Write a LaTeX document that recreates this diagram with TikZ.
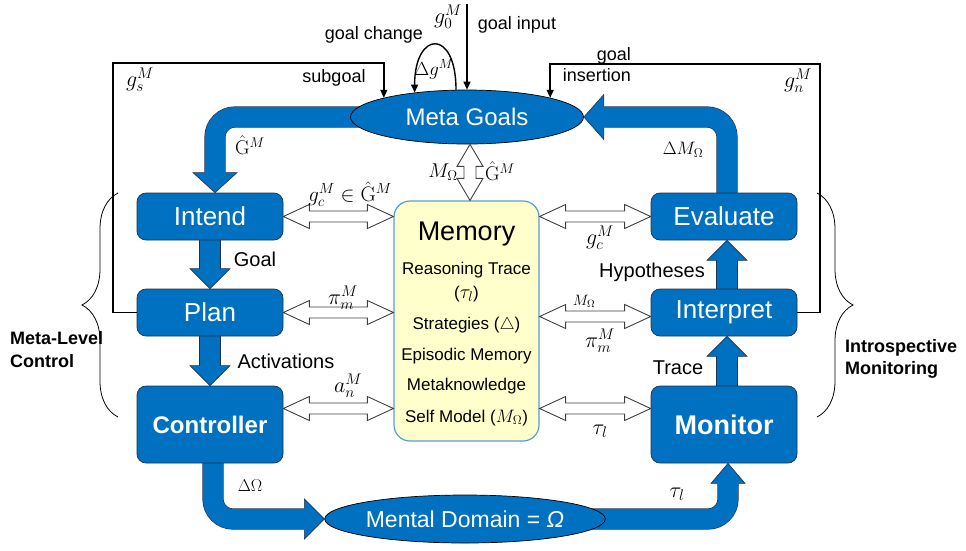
\RequirePackage{fix-cm}
\documentclass[tikz,border=0pt]{standalone}
\usepackage{amsmath}
\usepackage[no-math]{fontspec}
\setmainfont{Liberation Sans}
\usetikzlibrary{arrows.meta,shapes.geometric,decorations.pathreplacing,calc}
\definecolor{mblue}{RGB}{0,112,192}
\definecolor{bedge}{RGB}{30,50,80}
\definecolor{memfill}{RGB}{255,255,204}
\definecolor{memedge}{RGB}{91,155,213}
\definecolor{hedge}{RGB}{64,64,64}
\pgfdeclarelayer{bg}
\pgfsetlayers{bg,main}
\newcommand\fsz[2]{\fontsize{#1}{#2}\selectfont}
% fat arrow head: #1 tip, #2 rotation, #3 half width
\newcommand\fathead[3]{\filldraw[fathd, shift={#1}, rotate=#2] (-10.6,-20) -- (-#3,-20) -- (0,0) -- (#3,-20) -- (10.6,-20);}
% hollow horizontal double arrow, #1 left tip, #2 right tip
\newcommand\harr[2]{\draw[hollow] let \p1=#1, \p2=#2 in
  (\x1,\y1) -- (\x1+26pt,\y1+12pt) -- (\x1+26pt,\y1+5.5pt) -- (\x2-26pt,\y1+5.5pt) -- (\x2-26pt,\y1+12pt) -- (\x2,\y1)
  -- (\x2-26pt,\y1-12pt) -- (\x2-26pt,\y1-5.5pt) -- (\x1+26pt,\y1-5.5pt) -- (\x1+26pt,\y1-12pt) -- cycle;}
% hollow vertical double arrow, #1 top tip, #2 bottom tip
\newcommand\varr[2]{\draw[hollow] let \p1=#1, \p2=#2 in
  (\x1,\y1) -- (\x1+13pt,\y1-22pt) -- (\x1+6pt,\y1-22pt) -- (\x1+6pt,\y2+22pt) -- (\x1+13pt,\y2+22pt) -- (\x1,\y2)
  -- (\x1-13pt,\y2+22pt) -- (\x1-6pt,\y2+22pt) -- (\x1-6pt,\y1-22pt) -- (\x1-13pt,\y1-22pt) -- cycle;}
\tikzset{
  box/.style={rectangle, rounded corners=9pt, fill=mblue, draw=bedge, line width=0.7pt, text=white,
    minimum width=146pt, minimum height=47pt, inner sep=0pt, font=\fsz{26}{30}},
  bigbox/.style={box, minimum height=77pt},
  goalell/.style={ellipse, fill=mblue, draw=black, line width=0.7pt, text=white, inner sep=0pt},
  band/.style={draw=bedge, line width=0.6pt, double=mblue, double distance=20pt, rounded corners=20pt},
  fathd/.style={fill=mblue, draw=bedge, line width=0.6pt, line join=miter},
  hollow/.style={fill=white, draw=hedge, line width=0.9pt},
  conn/.style={line width=1.4pt, -{Triangle[length=8pt,width=7pt]}},
  mlab/.style={inner sep=0pt, font=\fsz{22}{24}},
  tlab/.style={inner sep=0pt, font=\fsz{18}{21}},
  flab/.style={inner sep=0pt, font=\fsz{20}{24}},
  memtxt/.style={inner sep=0pt, anchor=base, font=\fsz{17}{20}},
  bracedeco/.style={decorate, decoration={brace, amplitude=36pt}, line width=0.8pt},
}
\begin{document}
\begin{tikzpicture}[x=1pt,y=-1pt]
\useasboundingbox (0,0) rectangle (966,550);
% nodes
\node[goalell, minimum width=233pt, minimum height=54pt, font=\fsz{24}{28}] (mg) at (467,117) {Meta Goals};
\node[goalell, minimum width=236pt, minimum height=48pt, font=\fsz{23}{27}] (md) at (465,519) {Mental Domain = \textit{Ω}};
\node[box] (intend) at (210,216.5) {Intend};
\node[box] (plan) at (210,312.5) {Plan};
\node[bigbox, font=\fsz{24}{28}\bfseries] (controller) at (210,424.5) {Controller};
\node[box] (evaluate) at (724,216.5) {Evaluate};
\node[box] (interpret) at (724,312.5) {Interpret};
\node[bigbox, font=\fsz{27}{30}\bfseries] (monitor) at (724,424.5) {Monitor};
\node[rectangle, rounded corners=16pt, fill=memfill, draw=memedge, line width=1.2pt,
  minimum width=145pt, minimum height=240pt, inner sep=0pt] (memory) at (466.5,321) {};
% memory contents
\node[memtxt, font=\fsz{27}{30}] (m0) at (466.5,240) {Memory};
\node[memtxt] (m1) at (466.5,274) {Reasoning Trace};
\node[memtxt] (m2) at (466.5,298) {({\fsz{20}{20}$\tau_l$})};
\node[memtxt] (m3) at (466.5,329) {Strategies ($\triangle$)};
\node[memtxt] (m4) at (466.5,360) {Episodic Memory};
\node[memtxt] (m5) at (466.5,390) {Metaknowledge};
\node[memtxt] (m6) at (466.5,422) {Self Model ({\fsz{18}{18}$M_\Omega$})};
% fat arrows
\begin{pgfonlayer}{bg}
  \draw[band] (mg.center) -| ([xshift=5pt,yshift=19pt]intend.north);
  \fathead{([xshift=5pt]intend.north)}{0}{22}
  \draw[band] ([xshift=3pt]evaluate.center) |- ([xshift=19pt]mg.east);
  \fathead{(mg.east)}{-90}{22.5}
  \draw[band] ([xshift=3pt]controller.center) |- ([xshift=-19pt]md.west);
  \fathead{(md.west)}{90}{20}
  \draw[band] (md.center) -| ([xshift=4pt,yshift=-19pt]monitor.south);
  \fathead{([xshift=4pt]monitor.south)}{180}{17}
  \draw[band] (intend.center) -- ([yshift=19pt]plan.north);
  \fathead{(plan.north)}{0}{20}
  \draw[band] (plan.center) -- ([yshift=19pt]controller.north);
  \fathead{(controller.north)}{0}{20}
  \draw[band] ([xshift=3pt]monitor.center) -- ([xshift=3pt,yshift=-19pt]interpret.south);
  \fathead{([xshift=3pt]interpret.south)}{180}{20}
  \draw[band] ([xshift=3pt]interpret.center) -- ([xshift=3pt,yshift=-19pt]evaluate.south);
  \fathead{([xshift=3pt]evaluate.south)}{180}{20}
\end{pgfonlayer}
% hollow double arrows
\harr{(intend.east)}{(intend.east -| memory.west)}
\harr{(plan.east)}{(plan.east -| memory.west)}
\harr{([yshift=16pt]controller.east)}{([yshift=16pt]controller.east -| memory.west)}
\harr{(evaluate.west -| memory.east)}{(evaluate.west)}
\harr{([yshift=-4pt]interpret.west -| memory.east)}{([yshift=-4pt]interpret.west)}
\harr{([yshift=16pt]monitor.west -| memory.east)}{([yshift=16pt]monitor.west)}
\varr{([xshift=3pt]mg.south)}{([xshift=3pt]mg.south |- memory.north)}
% thin connectors
\coordinate (gtop) at (467,4);
\draw[conn] (gtop) -- (mg.north);
\coordinate (sgc) at (113,63);
\draw[conn] (plan.west) -| (sgc) -| (mg.167);
\coordinate (gic) at (820,64);
\draw[conn] (interpret.east) -| (gic) -| (mg.13);
\draw[conn] (mg.112) .. controls +(0,-62) and +(0,-62) .. (mg.155);
% braces
\coordinate (lbt) at (118,193); \coordinate (lbb) at (118,417);
\draw[bracedeco] (lbb) -- (lbt);
\coordinate (rbt) at (817,193); \coordinate (rbb) at (817,417);
\draw[bracedeco] (rbt) -- (rbb);
% labels
\node[mlab] (lg0) at (448,17) {$g_0^M$};
\node[tlab] (lgin) at (517,25) {goal input};
\node[tlab] (lgch) at (374,35) {goal change};
\node[mlab, font=\fsz{19}{22}] (ldg) at (434,69) {$\Delta g^M$};
\node[tlab] (lsub) at (334,78) {subgoal};
\node[mlab] (lgs) at (140,80) {$g_s^M$};
\node[tlab, anchor=east, align=right] (lins) at (631,65) {goal\\insertion};
\node[mlab] (lgn) at (798,81) {$g_n^M$};
\node[mlab, font=\fsz{18}{22}] (ldm) at (683,150) {$\Delta M_\Omega$};
\node[mlab, font=\fsz{20}{22}] (lG1) at (250,145) {$\hat{\mathrm{G}}^M$};
\node[mlab, font=\fsz{20}{22}] (lmo) at (443,172) {$M_\Omega$};
\node[mlab, font=\fsz{20}{22}] (lG2) at (500,171) {$\hat{\mathrm{G}}^M$};
\node[mlab, font=\fsz{21}{22}] (lgc) at (350,194) {$g_c^M\in\hat{\mathrm{G}}^M$};
\node[mlab] (lpi) at (343,298) {$\pi_m^M$};
\node[mlab] (lan) at (348,386) {$a_n^M$};
\node[mlab] (lgc2) at (600,238) {$g_c^M$};
\node[mlab, font=\fsz{15}{16}] (lmo2) at (584,301) {$M_\Omega$};
\node[mlab] (lpi2) at (600,341) {$\pi_m^M$};
\node[mlab] (ltau) at (600,431) {$\tau_l$};
\node[flab] (lgoal) at (255,259) {Goal};
\node[flab] (lact) at (286,361) {Activations};
\node[flab] (lhyp) at (652,272) {Hypotheses};
\node[flab] (ltr) at (678,368) {Trace};
\node[mlab, font=\fsz{17}{20}] (ldo) at (250,486) {$\Delta\Omega$};
\node[mlab] (ltau2) at (677,494) {$\tau_l$};
\node[inner sep=0pt, anchor=west, align=left, font=\fsz{18}{23}\bfseries] (lmlc) at (10,350) {Meta-Level\\Control};
\node[inner sep=0pt, anchor=west, align=left, font=\fsz{18}{22}\bfseries] (lim) at (845,359) {Introspective\\Monitoring};
\end{tikzpicture}
\end{document}
